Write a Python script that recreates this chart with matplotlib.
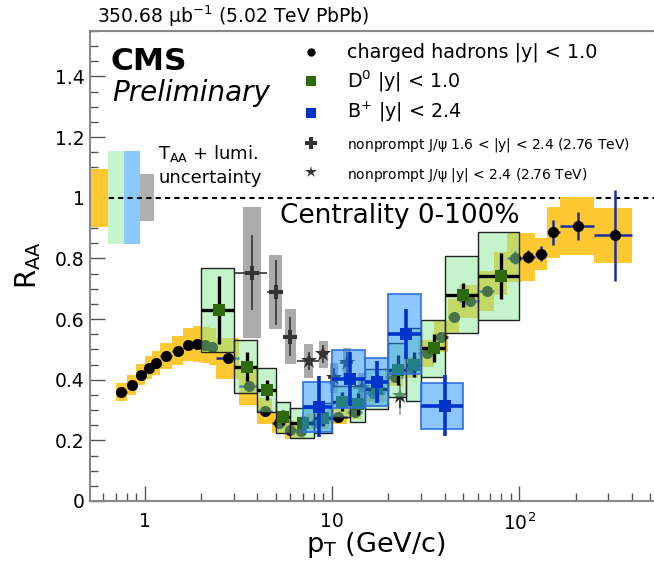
import numpy as np
import matplotlib
matplotlib.use('Agg')
import matplotlib.pyplot as plt
from matplotlib.patches import Rectangle
from matplotlib.lines import Line2D

plt.rcParams['font.family'] = ['DejaVu Sans']
plt.rcParams['mathtext.fontset'] = 'dejavusans'
plt.rcParams['mathtext.default'] = 'regular'

# ---------------- data ----------------
# charged hadrons |y|<1
ch_lo = [0.7, 0.8, 0.9, 1.0, 1.1, 1.2, 1.4, 1.6, 1.8, 2.0, 2.2, 2.4, 3.2, 4.0, 4.8, 5.6, 6.4, 7.2, 9.6, 12.0,
         14.4, 19.2, 24.0, 28.8, 35.2, 41.6, 48.0, 60.8, 73.6, 86.4, 103.6, 120.8, 140.0, 165.0, 250.0]
ch_hi = [0.8, 0.9, 1.0, 1.1, 1.2, 1.4, 1.6, 1.8, 2.0, 2.2, 2.4, 3.2, 4.0, 4.8, 5.6, 6.4, 7.2, 9.6, 12.0, 14.4,
         19.2, 24.0, 28.8, 35.2, 41.6, 48.0, 60.8, 73.6, 86.4, 103.6, 120.8, 140.0, 165.0, 250.0, 400.0]
ch_pt = [0.75, 0.85, 0.95, 1.05, 1.15, 1.3, 1.5, 1.7, 1.9, 2.1, 2.3, 2.8, 3.6, 4.4, 5.2, 6.0, 6.8, 8.3, 10.8, 13.2,
         16.6, 21.6, 26.4, 32.0, 38.4, 44.8, 54.4, 67.2, 80.0, 95.0, 112.0, 130.0, 152.0, 207.0, 325.0]
ch_raa = [0.359, 0.383, 0.417, 0.440, 0.455, 0.478, 0.496, 0.516, 0.518, 0.515, 0.509, 0.471, 0.380, 0.297,
          0.256, 0.235, 0.232, 0.262, 0.278, 0.295, 0.355, 0.410, 0.440, 0.487, 0.542, 0.608, 0.658, 0.692,
          0.750, 0.803, 0.806, 0.815, 0.886, 0.907, 0.876]
ch_stat = [0.002, 0.002, 0.002, 0.002, 0.002, 0.002, 0.002, 0.002, 0.002, 0.002, 0.002, 0.002, 0.002, 0.002,
           0.002, 0.002, 0.002, 0.003, 0.003, 0.004, 0.004, 0.005, 0.006, 0.007, 0.009, 0.011, 0.012, 0.015,
           0.018, 0.020, 0.022, 0.025, 0.042, 0.047, 0.150]
ch_sys = [0.030, 0.032, 0.035, 0.037, 0.040, 0.043, 0.048, 0.055, 0.058, 0.060, 0.062, 0.068, 0.063, 0.042,
          0.033, 0.030, 0.028, 0.025, 0.025, 0.025, 0.027, 0.030, 0.035, 0.045, 0.050, 0.058, 0.055, 0.065,
          0.070, 0.080, 0.079, 0.053, 0.085, 0.095, 0.090]

# D0 |y|<1
d0_lo = [2, 3, 4, 5, 6, 8, 10, 12.5, 15, 20, 25, 30, 40, 60]
d0_hi = [3, 4, 5, 6, 8, 10, 12.5, 15, 20, 25, 30, 40, 60, 100]
d0_pt = [2.5, 3.5, 4.5, 5.5, 7.0, 9.0, 11.25, 13.75, 17.5, 22.5, 27.5, 35.0, 50.0, 80.0]
d0_raa = [0.630, 0.443, 0.366, 0.276, 0.258, 0.273, 0.328, 0.320, 0.370, 0.432, 0.450, 0.504, 0.680, 0.743]
d0_stat = [0.111, 0.047, 0.034, 0.025, 0.022, 0.025, 0.030, 0.035, 0.045, 0.050, 0.040, 0.046, 0.040, 0.076]
d0_sys = [0.139, 0.087, 0.072, 0.052, 0.049, 0.050, 0.052, 0.058, 0.065, 0.090, 0.120, 0.094, 0.127, 0.145]

# B+ |y|<2.4
bp_lo = [7, 10, 15, 20, 30]
bp_hi = [10, 15, 20, 30, 50]
bp_pt = [8.5, 12.5, 17.5, 25.0, 40.0]
bp_raa = [0.311, 0.402, 0.392, 0.551, 0.314]
bp_stat = [0.100, 0.090, 0.070, 0.083, 0.100]
bp_sys = [0.083, 0.095, 0.080, 0.132, 0.075]

# nonprompt J/psi 1.6<|y|<2.4 (2.76 TeV)
jpf_lo = [3.0, 4.5, 5.5]
jpf_hi = [4.5, 5.5, 6.5]
jpf_pt = [3.75, 5.0, 6.0]
jpf_raa = [0.753, 0.689, 0.542]
jpf_stat = [0.124, 0.107, 0.065]
jpf_sys = [0.216, 0.122, 0.091]

# nonprompt J/psi |y|<2.4 (2.76 TeV)
jpc_lo = [6.5, 8.5, 9.5, 11.0, 13.0, 22.0]
jpc_hi = [8.5, 9.5, 11.0, 13.0, 16.0, 24.0]
jpc_pt = [7.5, 9.0, 10.25, 12.0, 14.5, 23.0]
jpc_raa = [0.462, 0.484, 0.405, 0.456, 0.372, 0.347]
jpc_stat = [0.030, 0.030, 0.035, 0.035, 0.035, 0.040]
jpc_sys = [0.055, 0.044, 0.050, 0.050, 0.050, 0.065]

# global uncertainties (T_AA + lumi) drawn around 1
taa_lo = [0.50, 0.634, 0.771, 0.946]
taa_hi = [0.634, 0.771, 0.946, 1.12]
taa_unc = [0.095, 0.154, 0.154, 0.077]

# ---------------- styles ----------------
YEL = '#FDC830'
GRN_FACE = (140/255, 235/255, 155/255, 0.5)
BLU_FACE = (30/255, 144/255, 255/255, 0.5)
GREY = '#ABABAB'
NAVY = '#1A2FA0'
DGREEN = '#2E6A0C'
BLUE = '#0033CC'
JPCOL = '#333333'

W, H = 654, 566
L, R, B, T = 90, 654, 501, 31
fig = plt.figure(figsize=(W/100, H/100), dpi=100)
ax = fig.add_axes([L/W, 1-B/H, (R-L)/W, (B-T)/H])
ax.set_xscale('log')
ax.set_xlim(0.51, 525)
ax.set_ylim(0, 1.55)


def boxes(lo, hi, y, dy, face, edge=None, lw=0, z=2):
    for a, b, c, d in zip(lo, hi, y, dy):
        ax.add_patch(Rectangle((a, c-d), b-a, 2*d, facecolor=face,
                               edgecolor=edge if edge else 'none', linewidth=lw, zorder=z))


def logbox(pt, dex, y, dy, face, z):
    for p, w, c, d in zip(pt, dex, y, dy):
        a, b = p*10**(-w), p*10**(w)
        ax.add_patch(Rectangle((a, c-d), b-a, 2*d, facecolor=face, edgecolor='none', zorder=z))


# dashed unity line
ax.axhline(1.0, color='black', lw=1.5, ls=(0, (2.5, 2)), zorder=1.5)

# charged hadrons
boxes(ch_lo, ch_hi, ch_raa, ch_sys, YEL, z=2)
ch_xerr = [np.array(ch_pt)-np.array(ch_lo), np.array(ch_hi)-np.array(ch_pt)]
ax.errorbar(ch_pt, ch_raa, xerr=ch_xerr, yerr=ch_stat, fmt='none', ecolor=NAVY, elinewidth=1.8, capsize=0, zorder=3)
ax.plot(ch_pt, ch_raa, 'o', color='black', ms=8, mew=0, zorder=3.5)

# J/psi
logbox(jpf_pt, [0.047, 0.035, 0.030], jpf_raa, jpf_sys, GREY, 4)
logbox(jpc_pt, [0.025, 0.022, 0.022, 0.022, 0.022, 0.006], jpc_raa, jpc_sys, GREY, 4)
jpf_xerr = [np.array(jpf_pt)-np.array(jpf_lo), np.array(jpf_hi)-np.array(jpf_pt)]
ax.errorbar(jpf_pt, jpf_raa, xerr=jpf_xerr, yerr=jpf_stat, fmt='none', ecolor=JPCOL, elinewidth=1.2, capsize=0, zorder=5)
ax.plot(jpf_pt, jpf_raa, 'P', color=JPCOL, ms=10, mew=0, zorder=5)
jpc_xerr = [np.array(jpc_pt)-np.array(jpc_lo), np.array(jpc_hi)-np.array(jpc_pt)]
ax.errorbar(jpc_pt, jpc_raa, xerr=jpc_xerr, yerr=jpc_stat, fmt='none', ecolor=JPCOL, elinewidth=1.2, capsize=0, zorder=5)
ax.plot(jpc_pt, jpc_raa, '*', color=JPCOL, ms=12, mew=0, zorder=5)

# D0
boxes(d0_lo, d0_hi, d0_raa, d0_sys, GRN_FACE, edge='#222222', lw=1.0, z=6)
d0_xerr = [np.array(d0_pt)-np.array(d0_lo), np.array(d0_hi)-np.array(d0_pt)]
ax.errorbar(d0_pt, d0_raa, xerr=d0_xerr, yerr=d0_stat, fmt='none', ecolor='black', elinewidth=2.4, capsize=0, zorder=7)
ax.plot(d0_pt, d0_raa, 's', color=DGREEN, ms=8.4, mew=0, zorder=7.5)

# B+
boxes(bp_lo, bp_hi, bp_raa, bp_sys, BLU_FACE, edge='#2F6FE0', lw=1.2, z=8)
bp_xerr = [np.array(bp_pt)-np.array(bp_lo), np.array(bp_hi)-np.array(bp_pt)]
ax.errorbar(bp_pt, bp_raa, xerr=bp_xerr, yerr=bp_stat, fmt='none', ecolor=BLUE, elinewidth=2.6, capsize=0, zorder=9)
ax.plot(bp_pt, bp_raa, 's', color=BLUE, ms=8.6, mew=0, zorder=9.5)

# global uncertainty boxes
taa_cols = [YEL, '#C4F5CC', '#8CC8FA', '#B0B0B0']
taa_z = [1.6, 1.4, 1.4, 1.4]
for a, b, u, c, z in zip(taa_lo, taa_hi, taa_unc, taa_cols, taa_z):
    ax.add_patch(Rectangle((a, 1-u), b-a, 2*u, facecolor=c, edgecolor='none', zorder=z))

# ---------------- axes styling ----------------
ax.set_yticks([0, 0.2, 0.4, 0.6, 0.8, 1.0, 1.2, 1.4])
ax.set_yticklabels(['0', '0.2', '0.4', '0.6', '0.8', '1', '1.2', '1.4'])
ax.set_yticks(np.arange(0, 1.551, 0.05), minor=True)
ax.set_xticks([1, 10, 100])
ax.set_xticklabels(['1', '10', '$10^{2}$'])
ax.xaxis.set_minor_locator(matplotlib.ticker.LogLocator(base=10, subs=np.arange(2, 10), numticks=20))
ax.xaxis.set_minor_formatter(matplotlib.ticker.NullFormatter())
ax.tick_params(axis='both', which='major', direction='in', length=10.8, width=1.0, color='#555555',
               labelsize=13.5, labelcolor='black')
ax.tick_params(axis='both', which='minor', direction='in', length=5.8, width=1.0, color='#555555')
ax.tick_params(axis='y', which='major', pad=4)
ax.tick_params(axis='x', which='major', pad=8)
ax.tick_params(top=False, right=False, which='both')
for s in ['left', 'bottom', 'top']:
    ax.spines[s].set_color('#888888')
    ax.spines[s].set_linewidth(1.5)
ax.spines['right'].set_visible(False)


def fx(x):
    return x / W


def fy(y):
    return 1 - y / H


# axis titles
fig.text(fx(376), fy(552), r'p$_{T}$ (GeV/c)', fontsize=19.5, ha='center', va='baseline')
fig.text(fx(28), fy(265), r'R$_{AA}$', fontsize=20, ha='center', va='center', rotation=90)

# header and labels
fig.text(fx(97), fy(23), r'350.68 $\mu$b$^{-1}$ (5.02 TeV PbPb)', fontsize=13.5, ha='left', va='baseline')
fig.text(fx(111), fy(70), 'CMS', fontsize=22.5, fontweight='bold', ha='left', va='baseline')
fig.text(fx(112), fy(101), 'Preliminary', fontsize=20, fontstyle='italic', ha='left', va='baseline')
fig.text(fx(158), fy(159), r'T$_{AA}$ + lumi.', fontsize=13, ha='left', va='baseline')
fig.text(fx(158), fy(183), 'uncertainty', fontsize=13, ha='left', va='baseline')
fig.text(fx(280), fy(223), 'Centrality 0-100%', fontsize=19, ha='left', va='baseline')

# legend
leg_y = [51.7, 81.0, 112.7, 142.7, 172.3]
leg_base = [57, 87.5, 117.5, 148.5, 178.5]
leg_txt = [r'charged hadrons |y| < 1.0', r'D$^{0}$ |y| < 1.0', r'B$^{+}$ |y| < 2.4',
           r'nonprompt J/$\psi$ 1.6 < |y| < 2.4 (2.76 TeV)', r'nonprompt J/$\psi$ |y| < 2.4 (2.76 TeV)']
leg_fs = [13.8, 13.8, 13.8, 10, 10]
leg_mk = [('o', 'black', 6), ('s', DGREEN, 6.5), ('s', BLUE, 7.2), ('P', JPCOL, 8), ('*', JPCOL, 9)]
for yy, yb, t, fs, (m, c, ms) in zip(leg_y, leg_base, leg_txt, leg_fs, leg_mk):
    fig.add_artist(Line2D([fx(311)], [fy(yy)], marker=m, color=c, ms=ms, mew=0, ls='none',
                          transform=fig.transFigure))
    fig.text(fx(346.7), fy(yb), t, fontsize=fs, ha='left', va='baseline')

fig.savefig('out.png', dpi=100)
